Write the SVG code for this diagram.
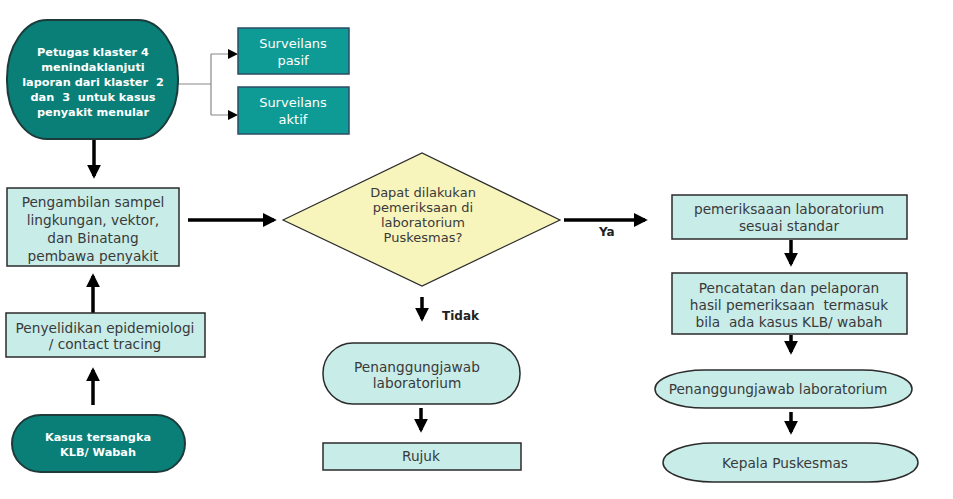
<svg xmlns="http://www.w3.org/2000/svg" width="953" height="499" viewBox="0 0 953 499">
<defs>
<style>
text{white-space:pre}
.dark{fill:#097f78;stroke:#1d3b3b;stroke-width:2}
.teal{fill:#0e9b95;stroke:#2c4c66;stroke-width:1.5}
.light{fill:#c8ece8;stroke:#2b2b2b;stroke-width:1.5}
.dia{fill:#f7f4bc;stroke:#2b2b2b;stroke-width:1.2}
.t{font-family:"DejaVu Sans",sans-serif;font-size:13.7px;fill:#3a3a3a;text-anchor:middle}
.td{font-family:"DejaVu Sans",sans-serif;font-size:13px;fill:#3a3a3a;text-anchor:middle}
.tw{font-family:"DejaVu Sans",sans-serif;font-size:13px;fill:#fff;text-anchor:middle}
.tb{font-family:"DejaVu Sans",sans-serif;font-size:11.3px;font-weight:bold;fill:#fff;text-anchor:middle}
.lbl{font-family:"DejaVu Sans",sans-serif;font-size:12px;font-weight:bold;fill:#222}
.thick{stroke:#000;stroke-width:3.5;fill:none}
.thin{stroke:#888;stroke-width:1.2;fill:none}
</style>
<marker id="ah" markerWidth="4" markerHeight="4" refX="3.2" refY="2" orient="auto" markerUnits="strokeWidth"><path d="M0,0 L4,2 L0,4 z" fill="#000"/></marker>
</defs>

<g id="connectors">
<path class="thin" d="M178,84 H211 M211,54 V115 M211,54 H228 M211,115 H228" />
<path d="M228,49 L238,54 L228,59 z M228,110 L238,115 L228,120 z" fill="#000"/>
<line class="thick" x1="94" y1="140" x2="94" y2="176" marker-end="url(#ah)"/>
<line class="thick" x1="93" y1="313" x2="93" y2="276" marker-end="url(#ah)"/>
<line class="thick" x1="93" y1="405" x2="93" y2="370" marker-end="url(#ah)"/>
<line class="thick" x1="188" y1="220" x2="274" y2="220" marker-end="url(#ah)"/>
<line class="thick" x1="564" y1="220" x2="645" y2="220" marker-end="url(#ah)"/>
<line class="thick" x1="422" y1="297" x2="422" y2="319" marker-end="url(#ah)"/>
<line class="thick" x1="421" y1="408" x2="421" y2="430" marker-end="url(#ah)"/>
<line class="thick" x1="791" y1="240" x2="791" y2="264" marker-end="url(#ah)"/>
<line class="thick" x1="791" y1="335" x2="791" y2="352" marker-end="url(#ah)"/>
<line class="thick" x1="791" y1="412" x2="791" y2="432" marker-end="url(#ah)"/>
<text class="lbl" x="599" y="236">Ya</text>
<text class="lbl" x="442" y="320">Tidak</text>
</g>

<g id="petugas">
<rect class="dark" x="7" y="20" width="171" height="119" rx="40" ry="58"/>
<text class="tb" x="93" y="56">Petugas klaster 4</text>
<text class="tb" x="93" y="71">menindaklanjuti</text>
<text class="tb" x="93" y="86">laporan dari klaster  2</text>
<text class="tb" x="93" y="101">dan  3  untuk kasus</text>
<text class="tb" x="93" y="116">penyakit menular</text>
</g>

<g id="surveilans-pasif">
<rect class="teal" x="238" y="28" width="111" height="46"/>
<text class="tw" x="293" y="48">Surveilans</text>
<text class="tw" x="293" y="65">pasif</text>
</g>

<g id="surveilans-aktif">
<rect class="teal" x="238" y="87" width="111" height="47"/>
<text class="tw" x="293" y="107">Surveilans</text>
<text class="tw" x="293" y="124">aktif</text>
</g>

<g id="pengambilan">
<rect class="light" x="7" y="188" width="172" height="78"/>
<text class="t" x="93" y="207">Pengambilan sampel</text>
<text class="t" x="93" y="225">lingkungan, vektor,</text>
<text class="t" x="93" y="243">dan Binatang</text>
<text class="t" x="93" y="261">pembawa penyakit</text>
</g>

<g id="penyelidikan">
<rect class="light" x="6" y="313" width="199" height="44"/>
<text class="t" x="105" y="333">Penyelidikan epidemiologi</text>
<text class="t" x="105" y="349">/ contact tracing</text>
</g>

<g id="kasus">
<rect class="dark" x="12" y="415" width="173" height="57" rx="28.5" ry="28.5"/>
<text class="tb" x="98" y="441">Kasus tersangka</text>
<text class="tb" x="98" y="456">KLB/ Wabah</text>
</g>

<g id="keputusan">
<polygon class="dia" points="283,220 422,153 560,220 422,286"/>
<text class="td" x="423" y="197">Dapat dilakukan</text>
<text class="td" x="423" y="212">pemeriksaan di</text>
<text class="td" x="423" y="227">laboratorium</text>
<text class="td" x="423" y="242">Puskesmas?</text>
</g>

<g id="pj-lab-tengah">
<rect class="light" x="323" y="343" width="197" height="61" rx="30" ry="30"/>
<text class="t" x="417" y="372">Penanggungjawab</text>
<text class="t" x="417" y="388">laboratorium</text>
</g>

<g id="rujuk">
<rect class="light" x="323" y="443" width="198" height="27"/>
<text class="t" x="421" y="461">Rujuk</text>
</g>

<g id="pemeriksaan">
<rect class="light" x="672" y="195" width="235" height="44"/>
<text class="t" x="789" y="214">pemeriksaaan laboratorium</text>
<text class="t" x="789" y="231">sesuai standar</text>
</g>

<g id="pencatatan">
<rect class="light" x="672" y="273" width="235" height="61"/>
<text class="t" x="789" y="293">Pencatatan dan pelaporan</text>
<text class="t" x="789" y="310">hasil pemeriksaan  termasuk</text>
<text class="t" x="789" y="327">bila  ada kasus KLB/ wabah</text>
</g>

<g id="pj-lab-kanan">
<rect class="light" x="655" y="370" width="257" height="38" rx="50" ry="19"/>
<text class="t" x="778" y="394">Penanggungjawab laboratorium</text>
</g>

<g id="kepala">
<rect class="light" x="663" y="443" width="255" height="39" rx="50" ry="19.5"/>
<text class="t" x="785" y="468">Kepala Puskesmas</text>
</g>
</svg>
